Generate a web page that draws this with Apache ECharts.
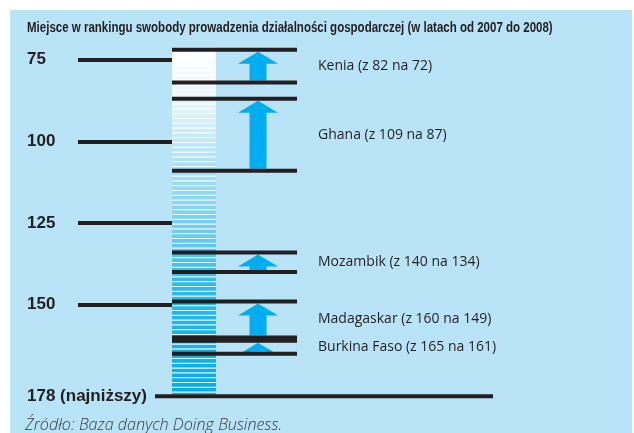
<!DOCTYPE html>
<html>
<head>
<meta charset="utf-8">
<script src="https://cdn.jsdelivr.net/npm/echarts@6/dist/echarts.min.js"></script>
<style>
  html, body { margin: 0; padding: 0; background: #fff; }
  #chart { width: 634px; height: 433px; }
</style>
</head>
<body>
<div id="chart"></div>
<script>
// miejsce w rankingu Doing Business
const countries = ["Kenia", "Ghana", "Mozambik", "Madagaskar", "Burkina Faso"];
const rank2007 = [82, 109, 140, 160, 165];
const rank2008 = [72, 87, 134, 149, 161];
const tickValues = [75, 100, 125, 150];
const lowestRank = 178;

const INK = "#231f20";
const ARROW = "#00aeef";
const LABEL_FONT = "'Open Sans', 'Noto Sans', sans-serif";

const chart = echarts.init(document.getElementById("chart"));

// kolumna z gradientem i paskami
function renderColumn(params, api) {
  const yTop = api.coord([0, api.value(0)])[1] - 2;
  const yBot = api.coord([0, api.value(1)])[1] - 2;
  const children = [
    {
      type: "rect",
      shape: { x: 172, y: yTop, width: 44, height: yBot - yTop },
      style: {
        fill: new echarts.graphic.LinearGradient(0, 0, 0, 1, [
          { offset: 0, color: "#ffffff" },
          { offset: 0.15, color: "#e8f6fd" },
          { offset: 0.35, color: "#a6dff7" },
          { offset: 0.53, color: "#6ccdf3" },
          { offset: 0.68, color: "#2fbbee" },
          { offset: 1, color: "#00adef" },
        ]),
      },
    },
  ];
  for (let y = yTop + 3; y < yBot - 1; y += 4.8) {
    children.push({
      type: "rect",
      shape: { x: 172, y: y, width: 44, height: 1.2 },
      style: { fill: "rgba(255,255,255,0.9)" },
    });
  }
  return { type: "group", children };
}

// linie i strzalki dla krajow
function renderPair(params, api) {
  const yOld = api.coord([0, api.value(0)])[1];
  const yNew = api.coord([0, api.value(1)])[1];
  const i = params.dataIndex;
  const tip = yNew + 2;
  const base = yNew + 14;
  const bottom = yOld - 2;
  return {
    type: "group",
    children: [
      {
        type: "polygon",
        shape: {
          points: [
            [258, tip], [278, base], [266.5, base], [266.5, bottom],
            [249.5, bottom], [249.5, base], [238, base],
          ],
        },
        style: { fill: ARROW },
      },
      {
        type: "line",
        shape: { x1: 172, y1: yOld, x2: 297, y2: yOld },
        style: { stroke: INK, lineWidth: 4 },
      },
      {
        type: "line",
        shape: { x1: 172, y1: yNew, x2: 297, y2: yNew },
        style: { stroke: INK, lineWidth: 4 },
      },
      {
        type: "text",
        x: 318,
        y: (yOld + yNew) / 2,
        style: {
          text: countries[i] + " (z " + rank2007[i] + " na " + rank2008[i] + ")",
          fontFamily: LABEL_FONT,
          fontSize: 14,
          fill: INK,
          verticalAlign: "middle",
        },
      },
    ],
  };
}

function renderBottom(params, api) {
  const y = api.coord([0, api.value(0)])[1];
  return {
    type: "line",
    shape: { x1: 155, y1: y, x2: 493, y2: y },
    style: { stroke: INK, lineWidth: 4 },
  };
}

chart.setOption({
  animation: false,
  graphic: [
    {
      type: "rect",
      z: -10,
      shape: { x: 10, y: 10, width: 622, height: 423 },
      style: { fill: "#b9e3f7" },
    },
    {
      // tytul - waska czcionka
      type: "text",
      x: 27,
      y: 28,
      scaleX: 0.822,
      style: {
        text: "Miejsce w rankingu swobody prowadzenia działalności gospodarczej (w latach od 2007 do 2008)",
        fontFamily: "'Liberation Sans', Arial, sans-serif",
        fontWeight: "bold",
        fontSize: 14,
        fill: INK,
        verticalAlign: "middle",
      },
    },
    {
      type: "text",
      x: 25,
      y: 425,
      style: {
        text: "Źródło: Baza danych Doing Business.",
        fontFamily: LABEL_FONT,
        fontStyle: "italic",
        fontWeight: 300,
        fontSize: 16.2,
        fill: "#3c3c3c",
        verticalAlign: "middle",
      },
    },
  ],
  grid: { left: 172, right: 0, top: 43.15, bottom: 30.15 },
  xAxis: { type: "value", min: 0, max: 1, show: false },
  yAxis: {
    type: "value",
    inverse: true,
    min: 70,
    max: 180,
    axisLine: { show: false },
    splitLine: { show: false },
    axisTick: {
      show: true,
      customValues: tickValues,
      length: 94,
      lineStyle: { color: INK, width: 4 },
    },
    axisLabel: {
      customValues: tickValues.concat([lowestRank]),
      formatter: (v) => (v === lowestRank ? lowestRank + " (najniższy)" : String(v)),
      align: "left",
      margin: 145,
      fontFamily: "'Liberation Sans', Arial, sans-serif",
      fontWeight: "bold",
      fontSize: 17,
      color: INK,
    },
  },
  series: [
    {
      type: "custom",
      name: "kolumna",
      clip: false,
      renderItem: renderColumn,
      data: [[Math.min(...rank2008), lowestRank]],
      z: 1,
    },
    {
      type: "custom",
      name: "kraje",
      clip: false,
      renderItem: renderPair,
      data: rank2007.map((r, i) => [r, rank2008[i]]),
      z: 3,
    },
    {
      type: "custom",
      name: "dol",
      clip: false,
      renderItem: renderBottom,
      data: [[lowestRank]],
      z: 3,
    },
  ],
});
</script>
</body>
</html>
